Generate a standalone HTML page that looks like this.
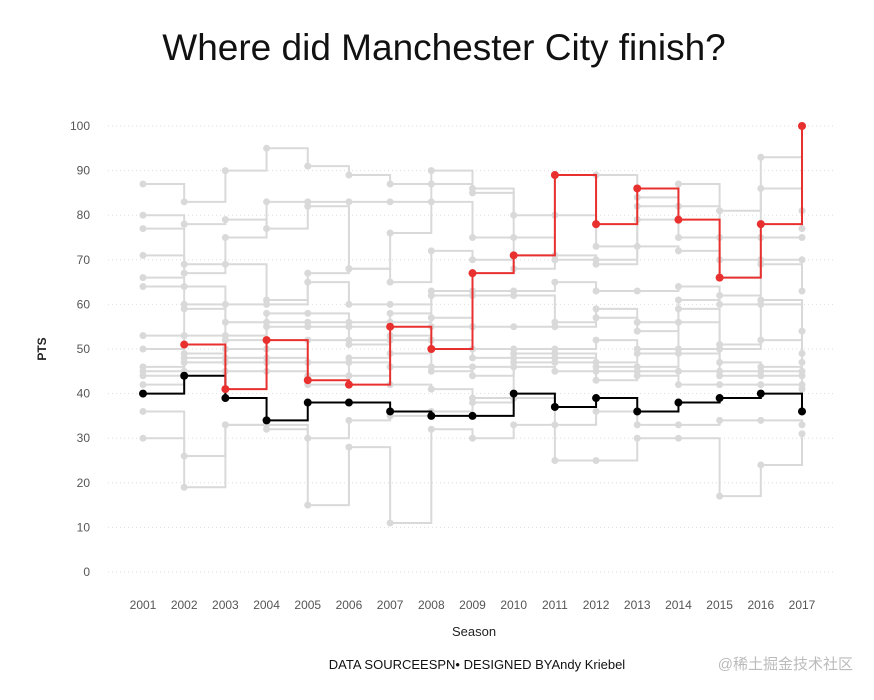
<!DOCTYPE html>
<html><head><meta charset="utf-8"><style>
body{margin:0;background:#fff;width:874px;height:695px;overflow:hidden;font-family:"Liberation Sans","Noto Sans CJK SC",sans-serif}
</style></head><body>
<svg id="chart" width="874" height="695" xmlns="http://www.w3.org/2000/svg">
<text x="444" y="60" text-anchor="middle" font-size="37" fill="#111">Where did Manchester City finish?</text>
<g id="grid"></g><g id="gray"></g><g id="main"></g><g id="axes"></g>
<text x="46" y="349" text-anchor="middle" font-size="12" font-weight="bold" fill="#222" transform="rotate(-90 46 349)">PTS</text>
<text x="474" y="636" text-anchor="middle" font-size="13" fill="#222">Season</text>
<text x="477" y="669" text-anchor="middle" font-size="13" fill="#111">DATA SOURCEESPN• DESIGNED BYAndy Kriebel</text>
<text x="853" y="669" text-anchor="end" font-size="15" fill="#bbb">@稀土掘金技术社区</text>
</svg>
<script>
const seasons=[2001,2002,2003,2004,2005,2006,2007,2008,2009,2010,2011,2012,2013,2014,2015,2016,2017];
const yTicks=[0,10,20,30,40,50,60,70,80,90,100];
const cityPts=[null,51,41,52,43,42,55,50,67,71,89,78,86,79,66,78,100];
const safetyPts=[40,44,39,34,38,38,36,35,35,40,37,39,36,38,39,40,36];
const gray1=[87,83,90,95,91,89,87,90,86,80,89,89,84,87,81,93,81];
const gray2=[80,78,79,77,83,83,83,87,85,75,80,73,82,82,75,86,77];
const gray3=[77,69,75,83,82,68,76,83,75,71,70,70,79,75,70,75,75];
const gray4=[71,67,69,61,67,68,65,72,70,68,71,69,73,72,66,70,70];
const gray5=[66,64,60,60,65,60,60,63,63,63,65,63,63,64,62,69,63];
const gray6=[64,60,56,58,58,56,58,62,62,62,56,59,56,61,60,61,54];
const gray7=[53,59,53,56,56,55,56,57,55,55,55,57,54,59,51,60,49];
const gray8=[50,53,52,55,55,52,53,55,50,50,50,52,50,56,50,52,47];
const gray9=[46,49,50,50,52,51,52,52,48,49,49,47,49,50,47,46,45];
const gray10=[45,48,48,48,47,48,49,46,46,48,48,46,46,49,45,45,44];
const gray11=[44,47,47,47,44,47,46,45,44,47,47,45,45,45,44,44,42];
const gray12=[42,45,45,45,42,44,42,41,39,46,45,43,44,42,42,42,41];
const gray13=[36,26,33,33,30,34,35,36,38,39,33,36,33,33,34,34,33];
const gray14=[30,19,33,32,15,28,11,32,30,33,25,25,30,30,17,24,31];
const grays=[gray1,gray2,gray3,gray4,gray5,gray6,gray7,gray8,gray9,gray10,gray11,gray12,gray13,gray14];
const NS="http://www.w3.org/2000/svg";
const x=s=>143+(s-2001)*(802-143)/16;
const y=v=>572-v*4.46;
function mk(t,a,p){const e=document.createElementNS(NS,t);for(const k in a)e.setAttribute(k,a[k]);p.appendChild(e);return e;}
const grid=document.getElementById('grid'),axes=document.getElementById('axes');
yTicks.forEach(t=>{
 const l=mk('line',{x1:108,x2:835,y1:y(t),y2:y(t),stroke:'#ddd','stroke-dasharray':'1 3'},grid);
 
 
 const tx=mk('text',{x:90,y:y(t)+4,'text-anchor':'end','font-size':12,fill:'#555'},axes);tx.textContent=t;
 
 
});
seasons.forEach(s=>{
 const tx=mk('text',{x:x(s),y:609,'text-anchor':'middle','font-size':12,fill:'#555'},axes);tx.textContent=s;
 
 
});
function series(vals,col,w,r,g,name){
 let d='';let prev=null;
 vals.forEach((v,i)=>{if(v==null)return;const px=x(seasons[i]),py=y(v);
  if(prev==null)d+='M'+px+' '+py;else d+='H'+px+'V'+py;prev=v;});
 const p=mk('path',{d:d,fill:'none',stroke:col,'stroke-width':w},g);
 
 
 vals.forEach((v,i)=>{if(v==null)return;
  const c=mk('circle',{cx:x(seasons[i]),cy:y(v),r:r,fill:col},g);
  
  
 });
}
const gg=document.getElementById('gray'),mg=document.getElementById('main');
grays.forEach((a,i)=>series(a,'#d9d9d9',2,3.5,gg,'team-'+(i+1)));
series(safetyPts,'#000',2,4,mg,'safety');
series(cityPts,'#e8302f',2,4,mg,'man-city');
</script>
</body></html>
